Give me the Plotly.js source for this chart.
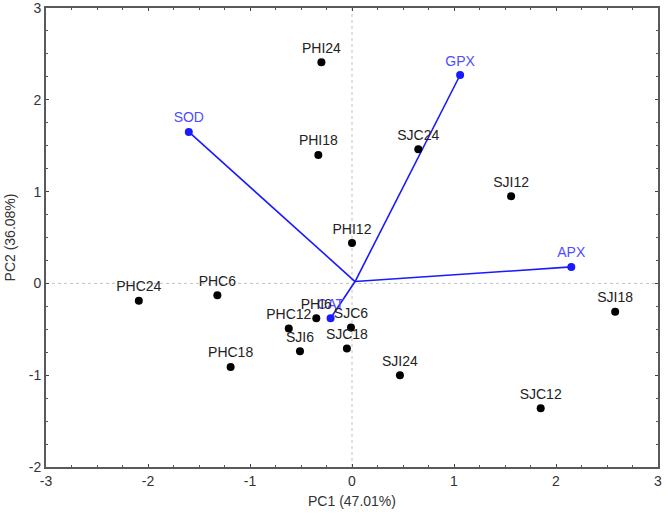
<!DOCTYPE html>
<html>
<head>
<meta charset="utf-8">
<script src="https://cdn.plot.ly/plotly-3.0.1.min.js"></script>
<style>html,body{margin:0;padding:0;background:#fff;}#chart{width:670px;height:519px;}</style>
</head>
<body>
<div id="chart"></div>
<script>
// Sample scores
const sampleNames = ["PHI24","PHI18","PHI12","PHI6","PHC24","PHC6","PHC12","PHC18","SJC24","SJI12","SJI18","SJC6","SJC18","SJI6","SJI24","SJC12"];
const sampleX = [-0.30,-0.33,0.00,-0.35,-2.09,-1.32,-0.62,-1.19,0.65,1.56,2.58,-0.01,-0.05,-0.51,0.47,1.85];
const sampleY = [2.41,1.40,0.44,-0.38,-0.19,-0.13,-0.49,-0.91,1.46,0.95,-0.31,-0.48,-0.71,-0.74,-1.00,-1.36];

// Variable loadings (vector tips) and common vector origin
const varNames = ["SOD","GPX","APX","CAT"];
const varX = [-1.60,1.06,2.15,-0.21];
const varY = [1.65,2.27,0.18,-0.38];
const originX = 0.03;
const originY = 0.02;

// Tick values / labels
const xTickVals = [-3,-2,-1,0,1,2,3];
const xTickText = ["-3","-2","-1","0","1","2","3"];
const yTickVals = [-2,-1,0,1,2,3];
const yTickText = ["-2","-1","0","1","2","3"];

const FONT = "Arial, Liberation Sans, sans-serif";
const blue = "#1a1aff";
const traces = [];
varNames.forEach((n,i)=>{
  traces.push({x:[originX,varX[i]], y:[originY,varY[i]], mode:"lines", type:"scatter",
    line:{color:blue,width:1.6}, hoverinfo:"skip", showlegend:false});
});
traces.push({x:varX, y:varY, text:varNames, mode:"markers+text", type:"scatter",
  marker:{color:blue,size:8}, textposition:"top center",
  textfont:{family:FONT, size:14, color:"#4d4dff"}, showlegend:false});
traces.push({x:sampleX, y:sampleY, text:sampleNames, mode:"markers+text", type:"scatter",
  marker:{color:"#000",size:8}, textposition:"top center",
  textfont:{family:FONT, size:14, color:"#222"}, showlegend:false});

const axisCommon = {
  showgrid:false, zeroline:false, showline:true, linecolor:"#5a5a5a", linewidth:2,
  mirror:"ticks", ticks:"inside", ticklen:3, tickwidth:1, tickcolor:"#444",
  tickmode:"array", ticklabeloverflow:"allow", tickfont:{family:FONT, size:14, color:"#333"},
  minor:{tickmode:"linear", tick0:0, dtick:0.25, ticks:"inside", ticklen:2, tickwidth:1, tickcolor:"#555"}
};

const layout = {
  width:670, height:519,
  margin:{l:46, r:12, t:8, b:52},
  paper_bgcolor:"#fff", plot_bgcolor:"#fff",
  xaxis:Object.assign({}, axisCommon, {range:[-3,3], tickvals:xTickVals, ticktext:xTickText,
    title:{text:"PC1 (47.01%)", font:{family:FONT, size:14, color:"#333"}, standoff:8}}),
  yaxis:Object.assign({}, axisCommon, {range:[-2,3], tickvals:yTickVals, ticktext:yTickText,
    title:{text:"PC2 (36.08%)", font:{family:FONT, size:14, color:"#333"}, standoff:10}}),
  shapes:[
    {type:"line", xref:"x", yref:"y", x0:-3, x1:3, y0:0, y1:0, line:{color:"#c4c4c4", width:1, dash:"dot"}, layer:"below"},
    {type:"line", xref:"x", yref:"y", x0:0, x1:0, y0:-2, y1:3, line:{color:"#c4c4c4", width:1, dash:"dot"}, layer:"below"}
  ]
};

Plotly.newPlot("chart", traces, layout, {displayModeBar:false, staticPlot:true});
</script>
</body>
</html>
